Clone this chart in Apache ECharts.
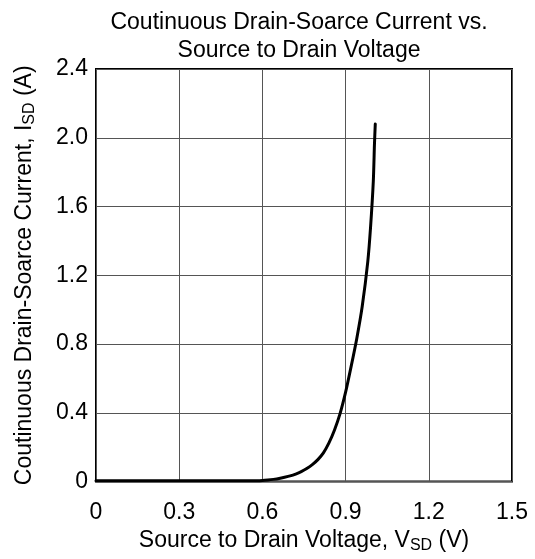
<!DOCTYPE html>
<html>
<head>
<meta charset="utf-8">
<script src="https://cdn.jsdelivr.net/npm/echarts@6/dist/echarts.min.js"></script>
<style>html,body{margin:0;padding:0;background:#fff;}#c{width:535px;height:559px;}</style>
</head>
<body>
<div id="c"></div>
<script>
// Data
const titleLines = ['Coutinuous Drain-Soarce Current vs.', 'Source to Drain Voltage'];
const xTicks = [0, 0.3, 0.6, 0.9, 1.2, 1.5];
const yTicks = [0, 0.4, 0.8, 1.2, 1.6, 2.0, 2.4];
const vsd = [0, 0.3, 0.58, 0.6, 0.62, 0.64, 0.66, 0.68, 0.7, 0.72, 0.74, 0.76, 0.78, 0.8, 0.82, 0.84, 0.86, 0.88, 0.9, 0.92, 0.94, 0.96, 0.98, 0.99, 1.0, 1.004, 1.007];
const isd = [0.005, 0.005, 0.005, 0.006, 0.009, 0.013, 0.018, 0.025, 0.033, 0.044, 0.058, 0.076, 0.099, 0.128, 0.167, 0.225, 0.3, 0.395, 0.52, 0.67, 0.83, 1.02, 1.28, 1.48, 1.75, 1.96, 2.08];

const FONT = '"Liberation Sans", Arial, Helvetica, sans-serif';
const chart = echarts.init(document.getElementById('c'));
const fmt = v => (v === 0 ? '0' : v.toFixed(1));
const rich = {
  n: { fontSize: 23, fontFamily: FONT, color: '#000', lineHeight: 26 },
  s: { fontSize: 16, fontFamily: FONT, color: '#000', lineHeight: 16, verticalAlign: 'bottom' }
};
chart.setOption({
  animation: false,
  backgroundColor: '#fff',
  graphic: [{
    type: 'text', x: 299, y: 9,
    style: { text: titleLines.join('\n'), font: '23px ' + FONT, fill: '#000', align: 'center', verticalAlign: 'top', lineHeight: 28 }
  }],
  grid: { left: 96, right: 23, top: 69, bottom: 75, show: true, borderColor: '#000', borderWidth: 2, backgroundColor: 'transparent' },
  xAxis: {
    type: 'value', min: xTicks[0], max: xTicks[xTicks.length - 1], interval: 0.3,
    axisLine: { show: false }, axisTick: { show: false },
    splitLine: { show: true, lineStyle: { color: '#555', width: 1 } },
    axisLabel: { formatter: fmt, fontSize: 23, fontFamily: FONT, color: '#000', margin: 20 },
    name: '{n|Source to Drain Voltage, V}{s|SD}{n| (V)}',
    nameLocation: 'middle', nameGap: 46,
    nameTextStyle: { rich: rich }
  },
  yAxis: {
    type: 'value', min: yTicks[0], max: yTicks[yTicks.length - 1], interval: 0.4,
    axisLine: { show: false }, axisTick: { show: false },
    splitLine: { show: true, lineStyle: { color: '#555', width: 1 } },
    axisLabel: { formatter: fmt, fontSize: 23, fontFamily: FONT, color: '#000', margin: 8 },
    name: '{n|Coutinuous Drain-Soarce Current, I}{s|SD}{n| (A)}',
    nameLocation: 'middle', nameGap: 58,
    nameTextStyle: { rich: rich }
  },
  series: [{
    type: 'line',
    data: vsd.map((x, i) => [x, isd[i]]),
    smooth: 0.25,
    showSymbol: false,
    lineStyle: { color: '#000', width: 3, join: 'round', cap: 'round' },
    z: 5
  }]
});
</script>
</body>
</html>
